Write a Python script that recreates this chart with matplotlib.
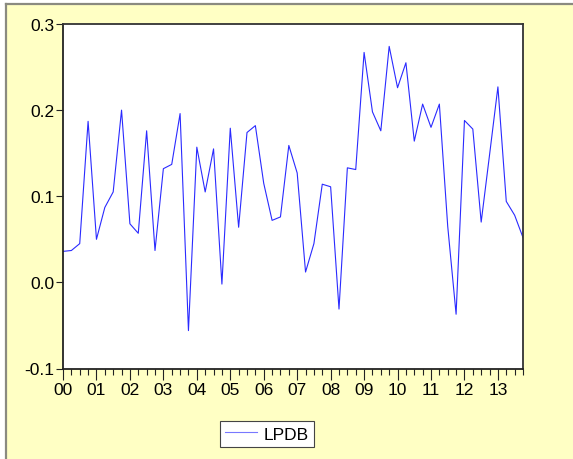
import matplotlib
matplotlib.use("Agg")
import matplotlib.pyplot as plt
from matplotlib.lines import Line2D
from matplotlib.patches import Rectangle
from matplotlib.ticker import FixedLocator, FormatStrFormatter

plt.rcParams["font.family"] = ["Liberation Sans", "DejaVu Sans"]

# quarterly series, 2000Q1 .. 2013Q4
lpdb = [
    0.036, 0.037, 0.045, 0.187,
    0.050, 0.087, 0.105, 0.200,
    0.068, 0.057, 0.176, 0.037,
    0.132, 0.137, 0.196, -0.056,
    0.157, 0.105, 0.155, -0.002,
    0.179, 0.064, 0.174, 0.182,
    0.115, 0.072, 0.076, 0.159,
    0.127, 0.012, 0.045, 0.114,
    0.111, -0.031, 0.133, 0.131,
    0.267, 0.198, 0.176, 0.274,
    0.226, 0.255, 0.164, 0.207,
    0.180, 0.207, 0.065, -0.037,
    0.188, 0.178, 0.070, 0.148,
    0.227, 0.094, 0.078, 0.052,
]
year_labels = ["00", "01", "02", "03", "04", "05", "06",
               "07", "08", "09", "10", "11", "12", "13"]
y_ticks = [-0.1, 0.0, 0.1, 0.2, 0.3]

W, H = 573, 460
fig = plt.figure(figsize=(W / 100, H / 100), dpi=100, facecolor="white")

# pale yellow frame with grey border on top and left
fig.patches.append(Rectangle((6 / W, 0), 1, 1 - 5 / H, transform=fig.transFigure,
                             facecolor="#FFFFC4", edgecolor="none", zorder=-10))
fig.lines.append(Line2D([6 / W, 1], [1 - 5 / H, 1 - 5 / H], transform=fig.transFigure,
                        color="#8a8a80", linewidth=1.6, zorder=-5))
fig.lines.append(Line2D([6 / W, 6 / W], [0, 1 - 5 / H], transform=fig.transFigure,
                        color="#8a8a80", linewidth=1.6, zorder=-5))

ax = fig.add_axes([63 / W, 1 - 369.5 / H, 460 / W, 344.5 / H])
ax.set_zorder(1)
ax.set_facecolor("white")

x = list(range(len(lpdb)))
ax.plot(x, lpdb, color="#2a2aff", linewidth=0.8, label="LPDB")

ax.set_xlim(0, len(lpdb) - 1)
ax.set_ylim(-0.1, 0.3)

ax.xaxis.set_major_locator(FixedLocator(list(range(0, len(lpdb), 4))))
ax.xaxis.set_minor_locator(FixedLocator(x))
ax.set_xticklabels(year_labels)
ax.set_yticks(y_ticks)
ax.yaxis.set_major_formatter(FormatStrFormatter("%.1f"))

ax.tick_params(axis="x", which="major", direction="out", length=8, width=0.8,
               labelsize=12.5, pad=2, colors="#222222", labelcolor="black")
ax.tick_params(axis="x", which="minor", direction="out", length=4, width=0.8,
               colors="#222222")
ax.tick_params(axis="y", which="major", direction="out", length=5, width=0.8,
               labelsize=12.5, pad=1, colors="#222222", labelcolor="black")

for side in ["top", "right"]:
    ax.spines[side].set_linewidth(1.3)
    ax.spines[side].set_color("#333333")
for side in ["left", "bottom"]:
    ax.spines[side].set_linewidth(1.3)
    ax.spines[side].set_color("#222222")

leg = fig.legend(loc="center", bbox_to_anchor=(267 / W, 1 - 435 / H),
                 fontsize=12.5, handlelength=1.8, handletextpad=0.4,
                 borderpad=0.3, fancybox=False, framealpha=1,
                 edgecolor="#444444", facecolor="white")
leg.get_frame().set_linewidth(0.8)
leg.get_lines()[0].set_color("#7878ff")
leg.set_zorder(2)

fig.savefig("out.png", dpi=100, facecolor=fig.get_facecolor())
